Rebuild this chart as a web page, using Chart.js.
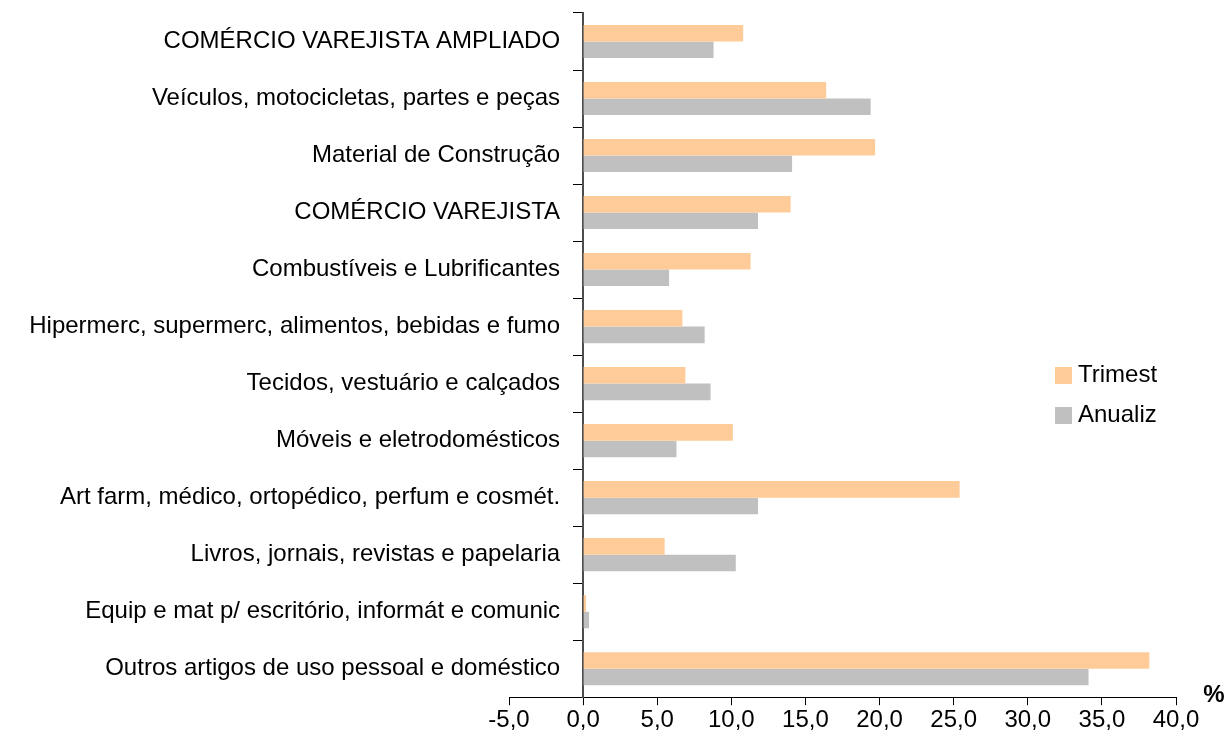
<!DOCTYPE html>
<html>
<head>
<meta charset="utf-8">
<title>Comércio varejista</title>
<script src="https://cdn.jsdelivr.net/npm/chart.js@4.4.1/dist/chart.umd.min.js"></script>
<style>
    html, body { margin: 0; padding: 0; background: #fff; }
    canvas { display: block; }
</style>
</head>
<body>
<canvas id="salesChart" width="1227" height="742"></canvas>
<script>
// Categories, top to bottom
const categories = [
    'COMÉRCIO VAREJISTA AMPLIADO',
    'Veículos, motocicletas, partes e peças',
    'Material de Construção',
    'COMÉRCIO VAREJISTA',
    'Combustíveis e Lubrificantes',
    'Hipermerc, supermerc, alimentos, bebidas e fumo',
    'Tecidos, vestuário e calçados',
    'Móveis e eletrodomésticos',
    'Art farm, médico, ortopédico, perfum e cosmét.',
    'Livros, jornais, revistas e papelaria',
    'Equip e mat p/ escritório, informát e comunic',
    'Outros artigos de uso pessoal e doméstico'
];

// Series values (%)
const trimestValues = [10.8, 16.4, 19.7, 14.0, 11.3, 6.7, 6.9, 10.1, 25.4, 5.5, 0.2, 38.2];
const anualizValues = [8.8, 19.4, 14.1, 11.8, 5.8, 8.2, 8.6, 6.3, 11.8, 10.3, 0.4, 34.1];

// Value axis ticks
const xMin = -5;
const xMax = 40;
const xStep = 5;

const fontFamily = '"Liberation Sans", Arial, sans-serif';
Chart.defaults.font.family = fontFamily;
Chart.defaults.color = '#000';

// category labels sit left of the axis at x=0; Chart.js puts them right on the line
// when the axis has an object position, so shift them by tick length + gap
const labelGap = 23;
const shiftCategoryLabels = {
    id: 'shiftCategoryLabels',
    beforeDraw(chart) {
        const scale = chart.scales.y;
        if (scale._shifted) return;
        const orig = scale.drawLabels;
        scale.drawLabels = function (area) {
            this.ctx.save();
            this.ctx.translate(-labelGap, 0);
            orig.call(this, area);
            this.ctx.restore();
        };
        scale._shifted = true;
    }
};

// Legend drawn inside the plot, to the right (built-in legend can't sit there)
const sideLegend = {
    id: 'sideLegend',
    afterDraw(chart) {
        const ctx = chart.ctx;
        ctx.save();
        ctx.font = '24px ' + fontFamily;
        ctx.textAlign = 'left';
        ctx.textBaseline = 'alphabetic';
        chart.data.datasets.forEach((ds, i) => {
            ctx.fillStyle = ds.backgroundColor;
            ctx.fillRect(1055, 367 + i * 40, 17, 17);
            ctx.fillStyle = '#000';
            ctx.fillText(ds.label, 1078, 382 + i * 40);
        });
        ctx.restore();
    }
};

// "%" unit mark near the end of the value axis
const unitMark = {
    id: 'unitMark',
    afterDraw(chart) {
        const ctx = chart.ctx;
        const area = chart.chartArea;
        ctx.save();
        ctx.font = 'bold 24px ' + fontFamily;
        ctx.fillStyle = '#000';
        ctx.textAlign = 'center';
        ctx.textBaseline = 'middle';
        ctx.fillText('%', area.right + 38, area.bottom - 2);
        ctx.restore();
    }
};

const ctx = document.getElementById('salesChart').getContext('2d');
new Chart(ctx, {
    type: 'bar',
    data: {
        labels: categories,
        datasets: [
            {
                label: 'Trimest',
                data: trimestValues,
                backgroundColor: '#FFCC99',
                borderWidth: 0
            },
            {
                label: 'Anualiz',
                data: anualizValues,
                backgroundColor: '#C0C0C0',
                borderWidth: 0
            }
        ]
    },
    options: {
        indexAxis: 'y',
        responsive: false,
        animation: false,
        categoryPercentage: 0.58,
        barPercentage: 1.0,
        layout: {
            padding: { left: 509, right: 51, top: 13, bottom: 6 }
        },
        plugins: {
            legend: { display: false },
            tooltip: { enabled: false },
            title: { display: false }
        },
        scales: {
            x: {
                type: 'linear',
                position: 'bottom',
                min: xMin,
                max: xMax,
                border: { display: true, color: '#000', width: 1 },
                grid: {
                    drawOnChartArea: false,
                    drawTicks: true,
                    tickLength: 8,
                    color: '#000'
                },
                ticks: {
                    stepSize: xStep,
                    padding: 1,
                    color: '#000',
                    font: { size: 24 },
                    callback: (v) => v.toFixed(1).replace('.', ',')
                }
            },
            y: {
                position: { x: 0 },
                border: { display: true, color: '#4d4d4d', width: 2 },
                grid: {
                    drawOnChartArea: false,
                    drawTicks: true,
                    tickLength: 9,
                    offset: true,
                    color: '#000'
                },
                ticks: {
                    padding: 0,
                    color: '#000',
                    font: { size: 24, lineHeight: 1 }
                }
            }
        }
    },
    plugins: [shiftCategoryLabels, sideLegend, unitMark]
});
</script>
</body>
</html>
